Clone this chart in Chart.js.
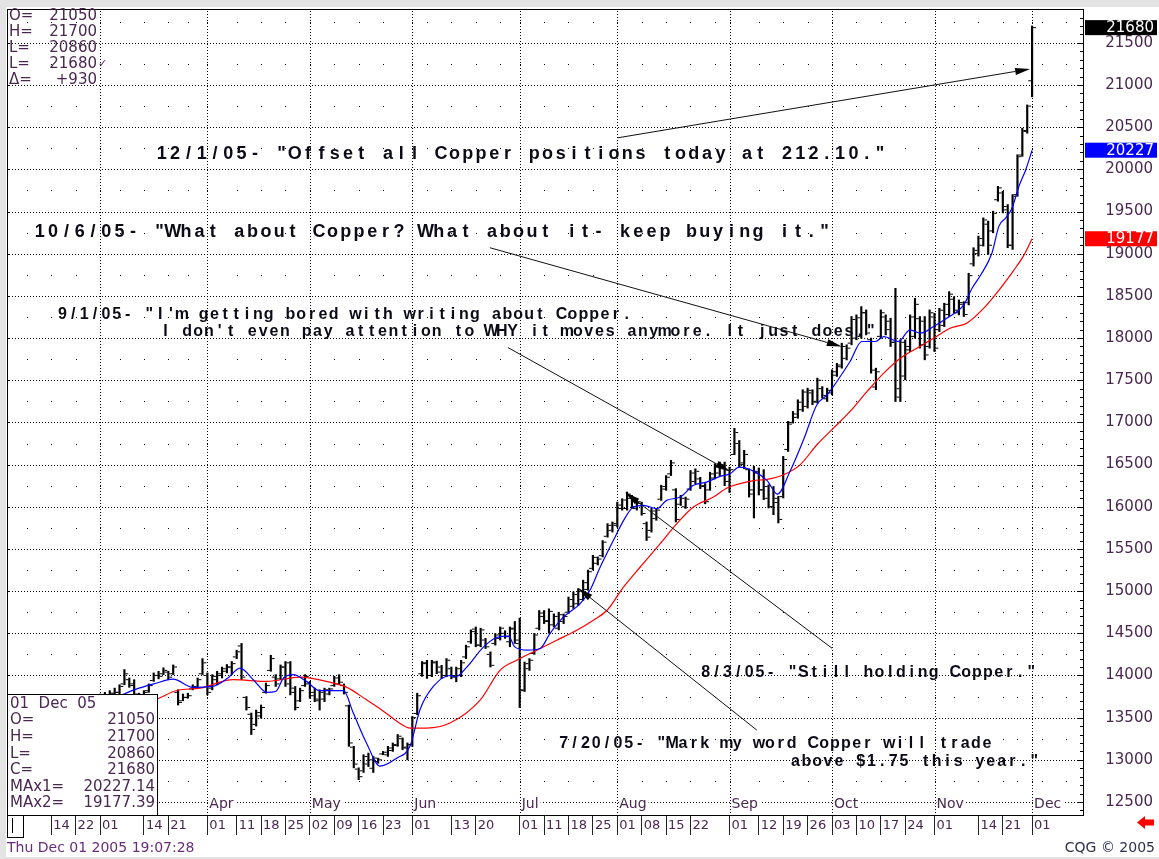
<!DOCTYPE html>
<html>
<head>
<meta charset="utf-8">
<title>Copper daily</title>
<script src="https://cdn.jsdelivr.net/npm/chart.js@4.4.0/dist/chart.umd.min.js"></script>
<style>
  html, body { margin: 0; padding: 0; background: #e3e3e3; overflow: hidden; }
  canvas { display: block; }
</style>
</head>
<body>
<canvas id="chart" width="1159" height="859"></canvas>
<script>
// ===== daily bars, index 0 = Mar 1 2005, 191 = Dec 1 2005 =====
const opens = [
  13700,13720,13750,13780,13800,13900,13950,13900,13770,13730,13820,13940,14000,14020,14040,14020,
  13800,13700,13740,13840,13860,14020,14000,13850,13950,14000,14050,14100,14220,14350,13740,13540,
  13420,13520,13800,14060,13980,13960,14100,14150,13850,13700,13880,13900,13800,13700,13720,13780,
  13880,13900,13880,13640,13150,12890,12870,12950,12900,12980,13070,13060,13110,13170,13250,13150,
  13180,13550,14020,14150,14000,14150,14100,14000,14080,14000,14000,14220,14400,14550,14360,14420,
  14250,14380,14440,14500,14400,14560,14380,13830,14080,14260,14560,14700,14650,14600,14560,14640,
  14750,14820,14850,14900,15020,15270,15330,15420,15650,15720,15780,15980,15980,16100,15980,16040,
  15800,15720,15860,16090,16210,16390,16200,16030,16000,16210,16300,16330,16250,16200,16340,16400,
  16480,16300,16620,16750,16520,16440,16200,16420,16200,16240,16000,16100,16120,16680,17000,17060,
  17150,17190,17350,17250,17400,17280,17350,17560,17660,17760,17940,18000,18020,18300,17980,17420,
  18020,18250,18200,17950,17300,17550,17860,18020,18230,18200,17900,18250,18100,18150,18280,18460,
  18300,18400,18420,18880,19000,19100,19350,19270,19640,19720,19560,19100,19700,20170,20450,21050
];
const highs = [
  13780,13800,13820,13850,13890,14070,13970,13950,13790,13820,13900,14030,14050,14090,14050,14125,
  13830,13780,13790,13890,13970,14200,14030,14010,14050,14100,14130,14165,14300,14380,13750,13555,
  13590,13650,13910,14240,14010,14125,14165,14165,13870,13850,14010,13930,13850,13830,13850,13850,
  13990,14010,13900,13650,13160,12905,13060,13080,13040,13020,13100,13160,13200,13300,13260,13200,
  13515,13790,14165,14180,14180,14170,14120,14200,14100,14100,14180,14360,14540,14575,14560,14440,
  14280,14497,14575,14530,14575,14640,14680,14160,14200,14500,14770,14770,14790,14730,14750,14730,
  14930,14990,15030,15130,15250,15425,15405,15600,15800,15820,16055,16095,16175,16135,16095,16055,
  15820,15980,15980,16255,16370,16550,16215,16135,16115,16430,16450,16350,16275,16410,16510,16530,
  16530,16470,16930,16786,16670,16450,16479,16460,16440,16260,16240,16123,16597,17012,17130,17268,
  17387,17406,17387,17525,17425,17406,17623,17700,17939,17920,18255,18275,18373,18334,18000,17643,
  18334,18275,18235,18590,17979,17979,18275,18472,18255,18255,18334,18294,18353,18413,18550,18490,
  18452,18432,18768,19071,19209,19425,19386,19504,19799,19740,19583,19701,20173,20488,20764,21700
];
const lows = [
  13650,13680,13700,13750,13770,13890,13860,13750,13710,13700,13800,13930,13960,14010,13950,14010,
  13650,13700,13730,13830,13850,14010,13770,13830,13890,13970,14030,14010,14200,13950,13590,13300,
  13400,13495,13790,14050,13870,13950,13870,13770,13590,13690,13870,13730,13690,13590,13690,13770,
  13870,13890,13780,13160,12905,12765,12850,12920,12850,12960,13060,13040,13100,13160,13120,13000,
  13160,13535,13990,13965,13985,14020,13965,13985,13960,13925,13985,14200,14380,14340,14340,14320,
  14100,14360,14420,14440,14340,14380,13620,13810,14060,14250,14540,14615,14500,14575,14540,14615,
  14735,14795,14830,14890,15010,15250,15310,15405,15640,15700,15760,15960,15960,15980,15960,15900,
  15600,15700,15840,16075,16195,16370,15820,16015,15980,16195,16275,16215,16035,16195,16330,16370,
  16250,16170,16617,16470,16450,16115,15867,16140,16084,15985,15906,15808,16104,16656,16992,17050,
  17130,17170,17210,17230,17290,17248,17327,17545,17643,17741,17920,17979,17998,18038,17584,17387,
  17998,18038,17900,17248,17248,17505,17840,17998,17880,17742,17880,17840,18077,18136,18255,18294,
  18275,18255,18393,18854,18972,19090,18992,19248,19622,19484,19071,19051,19681,20154,20429,20860
];
const closes = [
  13720,13760,13790,13800,13870,14020,13880,13780,13740,13800,13880,14000,13990,14060,13980,14100,
  13680,13740,13760,13870,13950,14150,13800,13990,14020,14080,14100,14140,14280,13980,13620,13360,
  13560,13620,13880,14200,13900,14100,13900,13800,13620,13820,13990,13760,13720,13800,13830,13840,
  13970,13920,13800,13200,12950,12800,13040,13000,13020,13000,13090,13140,13180,13280,13140,13180,
  13500,13760,14140,14000,14160,14040,14000,14180,13980,14080,14150,14340,14520,14360,14540,14340,
  14120,14480,14560,14460,14550,14420,13820,14140,14180,14480,14740,14640,14760,14700,14720,14700,
  14900,14960,15000,15100,15230,15400,15380,15580,15780,15800,16020,16080,16150,16000,16060,15920,
  15640,15950,15960,16240,16350,16520,15850,16100,16090,16400,16420,16240,16060,16390,16490,16500,
  16300,16440,16880,16500,16620,16150,16400,16200,16100,16000,16050,15850,16560,16980,17100,17240,
  17360,17380,17240,17500,17320,17380,17600,17680,17900,17880,18220,18240,18300,18060,17620,17600,
  18300,18100,17950,17400,17950,17900,18250,18400,17920,17800,18300,17880,18330,18400,18520,18330,
  18420,18280,18740,19040,19180,19400,19100,19480,19780,19520,19100,19680,20150,20460,20750,21680
];

// moving averages: [bar index, value]
const ma1Pts = [[0,13700],[4,13760],[7,13830],[11,13900],[15,13956],[19,13860],[23,13870],[26,13960],
  [28.7,14086],[31.4,13950],[34.2,13800],[36,13810],[37.6,13970],[39.6,14010],[42.3,13930],[45,13820],
  [49.9,13820],[51.9,13555],[54.6,13200],[57.4,12925],[60.8,13020],[63.5,13160],[65.6,13600],[68.3,13870],
  [71.7,14000],[72.8,13984],[75.2,14102],[78.6,14339],[81.3,14450],[83.7,14466],[85,14339],[87.5,14300],
  [90.2,14320],[92.2,14497],[95,14694],[98.4,14852],[100.4,15010],[102.5,15286],[105.2,15602],[107.3,15839],
  [109.3,15997],[111.4,16017],[114.1,15977],[116.1,16076],[118.9,16115],[121.6,16254],[124.3,16293],[127.1,16360],
  [129.1,16392],[131,16470],[134,16420],[136.7,16310],[138.8,16150],[141.4,16420],[144.2,16800],[146.9,17209],
  [149,17327],[151,17485],[153.7,17722],[156.1,17959],[158.9,17959],[160.6,18018],[163.6,17959],[166,18097],
  [168.1,18058],[170.8,18136],[173.5,18235],[177,18393],[178.7,18590],[180.5,18750],[182.8,19012],[184.2,19327],
  [185.6,19425],[186.9,19543],[188.3,19799],[189.7,19996],[191,20227.14]];
const ma2Pts = [[0,13600],[6,13650],[11.6,13720],[15.7,13822],[20.5,13850],[27.3,13950],[34.2,13930],[41,13980],
  [47.8,13910],[50.5,13862],[54.6,13712],[58,13580],[61.5,13432],[63.5,13377],[66.9,13377],[71.7,13436],
  [77.9,13708],[82,14063],[85.4,14181],[89.5,14300],[93.6,14418],[97.7,14537],[101.1,14655],[103.9,14773],
  [107.3,15050],[110.7,15286],[114.8,15563],[118.2,15800],[121.6,15997],[125.7,16115],[128.5,16222],[133.9,16310],
  [136.7,16325],[140.1,16380],[143.5,16500],[146.9,16735],[150.3,16933],[153.7,17130],[157.2,17367],[160.6,17584],
  [164,17761],[167.4,17880],[170.8,17998],[174.2,18117],[177.6,18176],[181.1,18354],[184.5,18590],[187.2,18800],
  [189.3,18980],[191,19177.39]];
const maLast = [20227.14, 19177.39];

// axis ticks
const weekTicks  = [-15,-10,-5,0,4,9,14,18,22,28,33,38,43,48,53,58,64,67,72,77,82,86,91,96,101,106,111,116,121,126,
  129,135,140,145,150,155,160,165,171,175,180,185,188,191,193,198];
const weekLabels = ['','14','22','01','','14','21','','01','11','18','25','02','09','16','23','01','','13','20','','01',
  '11','18','25','01','08','15','22','','01','12','19','26','03','10','17','24','01','','14','21','','01','',''];
const monthStarts = [0,22,43,64,86,106,129,150,171,191];
const monthNames  = ['Mar','Apr','May','Jun','Jul','Aug','Sep','Oct','Nov','Dec'];
const priceTicks = [12500,13000,13500,14000,14500,15000,15500,16000,16500,17000,17500,18000,18500,19000,19500,20000,20500,21000,21500];
const dateStamp = 'Thu Dec 01 2005 19:07:28';
const barDate = '01  Dec  05';

// comments on the chart, anchored in (bar index, price)
const notes = [
  { text: '12/1/05- "Offset all Copper positions today at 212.10."', x: 11.3, y: 20184, big: true },
  { text: '10/6/05- "What about Copper? What about it- keep buying it."', x: -13.7, y: 19261, big: true },
  { text: '9/1/05- "I\'m getting bored with writing about Copper.', x: -8.8, y: 18278 },
  { text: 'I don\'t even pay attention to WHY it moves anymore. It just does."', x: 12.3, y: 18077 },
  { text: '8/3/05- "Still holding Copper."', x: 123, y: 14039 },
  { text: '7/20/05- "Mark my word Copper will trade', x: 93.9, y: 13187 },
  { text: 'above $1.75 this year."', x: 141.4, y: 12974 }
];
const arrows = [
  [106.1, 20374, 190.6, 21190],
  [79.9, 19071, 152, 17899],
  [83.6, 17887, 129.1, 16419],
  [150, 14323, 107.6, 16170],
  [134.6, 13352, 98, 15034]
];

const SANS = '"DejaVu Sans", sans-serif';
const BOLD = '"Liberation Sans", Arial, sans-serif';
const TXT = '#4a2750';
const last = closes.length - 1;

function spaced(ctx, s, x, y, pitch) {
    for (let k = 0; k < s.length; k++) ctx.fillText(s[k], x + k * pitch + pitch / 2, y);
}

function arrowTo(ctx, x1, y1, x2, y2) {
    const dx = x2 - x1, dy = y2 - y1, len = Math.hypot(dx, dy);
    const ux = dx / len, uy = dy / len;
    const hl = 15, hw = 3.5;
    ctx.beginPath();
    ctx.moveTo(x1, y1);
    ctx.lineTo(x2 - ux * hl, y2 - uy * hl);
    ctx.stroke();
    ctx.beginPath();
    ctx.moveTo(x2, y2);
    ctx.lineTo(x2 - ux * hl - uy * hw, y2 - uy * hl + ux * hw);
    ctx.lineTo(x2 - ux * hl + uy * hw, y2 - uy * hl - ux * hw);
    ctx.closePath();
    ctx.fill();
}

// ============================================
// Decorations drawn through the chart scales
// ============================================
const decor = {
    id: 'decor',
    beforeDraw(chart) {
        const { ctx, width, height } = chart;
        ctx.save();
        ctx.fillStyle = '#e3e3e3';
        ctx.fillRect(0, 0, width, height);
        ctx.fillStyle = '#fff';
        ctx.fillRect(6, 7, width - 6, height - 9);
        ctx.restore();
    },
    beforeDatasetsDraw(chart) {
        const { ctx, chartArea: a, scales: { x, y } } = chart;
        ctx.save();
        ctx.fillStyle = '#000';
        // dotted price lines
        priceTicks.forEach(p => {
            const py = Math.round(y.getPixelForValue(p));
            for (let px = Math.ceil(a.left) + 2; px < a.right; px += 3) ctx.fillRect(px, py, 1, 1);
        });
        // dotted month lines
        monthStarts.forEach(v => {
            const px = Math.round(x.getPixelForValue(v));
            for (let py = Math.ceil(a.top) + 2; py < a.bottom; py += 3) ctx.fillRect(px, py, 1, 1);
        });
        // sparse dots on the quarter levels
        for (let p = 12750; p < 22000; p += 500) {
            const py = Math.round(y.getPixelForValue(p));
            if (py < a.top || py > a.bottom) continue;
            weekTicks.forEach(v => {
                const px = Math.round(x.getPixelForValue(v));
                if (px > a.left && px < a.right) ctx.fillRect(px, py, 1, 1);
            });
        }
        // inward ticks on both price edges
        ctx.strokeStyle = '#000';
        ctx.lineWidth = 1;
        ctx.beginPath();
        for (let p = 12400; p <= 21900; p += 100) {
            const py = Math.round(y.getPixelForValue(p)) + 0.5;
            const len = p % 500 === 0 ? 6 : 3;
            ctx.moveTo(a.right - len, py); ctx.lineTo(a.right, py);
            if (p % 250 === 0) { ctx.moveTo(a.left, py); ctx.lineTo(a.left + 3, py); }
        }
        ctx.moveTo(a.left + 0.5, a.top); ctx.lineTo(a.left + 0.5, a.bottom);
        ctx.moveTo(a.left, a.top + 0.5); ctx.lineTo(a.right, a.top + 0.5);
        ctx.stroke();
        // month names inside the plot
        ctx.font = '14px ' + SANS;
        ctx.textBaseline = 'middle';
        ctx.textAlign = 'left';
        monthStarts.forEach((v, k) => {
            const px = x.getPixelForValue(v) + 2;
            const w = ctx.measureText(monthNames[k]).width;
            ctx.fillStyle = '#fff';
            ctx.fillRect(px, a.bottom - 19, w + 2, 16);
            ctx.fillStyle = TXT;
            ctx.fillText(monthNames[k], px, a.bottom - 11);
        });
        ctx.restore();
    },
    afterDatasetsDraw(chart) {
        const { ctx, chartArea: a, scales: { x, y }, width, height } = chart;
        ctx.save();

        // remarks and arrows
        ctx.fillStyle = '#0b0b18';
        ctx.strokeStyle = '#111';
        ctx.lineWidth = 1;
        ctx.textAlign = 'center';
        ctx.textBaseline = 'middle';
        notes.forEach(n => {
            ctx.font = (n.big ? 'bold 18px ' : 'bold 16px ') + BOLD;
            spaced(ctx, n.text, x.getPixelForValue(n.x), y.getPixelForValue(n.y), n.big ? 13.3 : 10.85);
        });
        ctx.fillStyle = '#000';
        arrows.forEach(r => arrowTo(ctx, x.getPixelForValue(r[0]), y.getPixelForValue(r[1]),
            x.getPixelForValue(r[2]), y.getPixelForValue(r[3])));

        // quote box, top left
        ctx.font = '15px ' + SANS;
        ctx.textBaseline = 'middle';
        const quote = [['O=', opens[last]], ['H=', highs[last]], ['L=', lows[last]],
            ['L=', closes[last]], ['\u0394=', '+' + (closes[last] - closes[last - 1])]];
        quote.forEach((q, k) => {
            const ty = 16 + k * 16;
            ctx.fillStyle = TXT;
            ctx.textAlign = 'left';
            ctx.fillText(q[0], 9, ty);
            ctx.textAlign = 'right';
            ctx.fillText(String(q[1]), 97, ty);
        });
        ctx.textAlign = 'left';
        ctx.font = '11px ' + SANS;
        ctx.fillText('\u2713', 98, 16 + 3 * 16);

        // bar info box, bottom left
        const bx = a.left, by = 694, bw = 150, bh = a.bottom - by;
        ctx.fillStyle = '#fff';
        ctx.fillRect(bx, by, bw, bh);
        ctx.strokeStyle = '#000';
        ctx.strokeRect(bx + 0.5, by + 0.5, bw, bh);
        ctx.font = '15px ' + SANS;
        const info = [[barDate, ''], ['O=', opens[last]], ['H=', highs[last]], ['L=', lows[last]],
            ['C=', closes[last]], ['MAx1=', maLast[0].toFixed(2)], ['MAx2=', maLast[1].toFixed(2)]];
        info.forEach((q, k) => {
            const ty = 704 + k * 16.6;
            ctx.fillStyle = TXT;
            ctx.textAlign = 'left';
            ctx.fillText(q[0], bx + 3, ty);
            ctx.textAlign = 'right';
            ctx.fillText(String(q[1]), bx + bw - 2, ty);
        });

        // value tags on the price axis
        const tags = [[closes[last], '#000'], [maLast[0], '#0000ff'], [maLast[1], '#ff0000']];
        tags.forEach(t => {
            const py = y.getPixelForValue(t[0]);
            ctx.fillStyle = t[1];
            ctx.fillRect(a.right + 2, py - 7.5, width - a.right - 4, 15);
            ctx.fillStyle = '#fff';
            ctx.textAlign = 'right';
            ctx.fillText(String(Math.round(t[0])), width - 5, py + 0.5);
        });

        // scroll box at the start of the date row, red arrow, footer
        ctx.strokeStyle = '#000';
        ctx.strokeRect(a.left + 0.5, a.bottom + 0.5, 16, 22);
        ctx.beginPath();
        ctx.moveTo(a.left + 5.5, a.bottom + 3); ctx.lineTo(a.left + 5.5, a.bottom + 18);
        ctx.stroke();

        ctx.fillStyle = '#ff0000';
        ctx.beginPath();
        ctx.moveTo(1137, 822.5);
        ctx.lineTo(1145, 816); ctx.lineTo(1145, 819.5); ctx.lineTo(1154, 819.5);
        ctx.lineTo(1154, 825.5); ctx.lineTo(1145, 825.5); ctx.lineTo(1145, 829);
        ctx.closePath();
        ctx.fill();

        ctx.font = '14px ' + SANS;
        ctx.textAlign = 'left';
        ctx.fillStyle = '#6a2c7a';
        ctx.fillText(dateStamp, 7, height - 11);
        ctx.textAlign = 'right';
        ctx.fillStyle = '#2e3048';
        ctx.fillText('CQG \u00a9 2005', width - 4, height - 11);
        ctx.restore();
    }
};

// ============================================
// Chart
// ============================================
const idx = closes.map((c, i) => i);
const TICK = 0.5;

new Chart(document.getElementById('chart').getContext('2d'), {
    type: 'bar',
    data: {
        datasets: [
            {
                type: 'bar',
                data: idx.map(i => ({ x: i, y: [lows[i], highs[i]] })),
                backgroundColor: '#000',
                barThickness: 1.5,
                order: 3
            },
            {
                type: 'scatter',
                data: idx.map(i => ({ x: i - TICK, y: opens[i] })),
                pointStyle: 'line', pointRadius: 1.4, borderColor: '#000', borderWidth: 1,
                order: 2
            },
            {
                type: 'scatter',
                data: idx.map(i => ({ x: i + TICK, y: closes[i] })),
                pointStyle: 'line', pointRadius: 1.4, borderColor: '#000', borderWidth: 1,
                order: 2
            },
            {
                type: 'line',
                data: ma1Pts.map(p => ({ x: p[0], y: p[1] })),
                borderColor: '#0000ff', borderWidth: 1.2, pointRadius: 0,
                cubicInterpolationMode: 'monotone',
                order: 1
            },
            {
                type: 'line',
                data: ma2Pts.map(p => ({ x: p[0], y: p[1] })),
                borderColor: '#ff0000', borderWidth: 1.2, pointRadius: 0,
                cubicInterpolationMode: 'monotone',
                order: 1
            }
        ]
    },
    options: {
        responsive: false,
        devicePixelRatio: 1,
        animation: false,
        events: [],
        layout: { padding: { left: 7, top: 8, right: 6, bottom: 22 } },
        plugins: { legend: { display: false }, tooltip: { enabled: false } },
        scales: {
            x: {
                type: 'linear',
                min: -19.06, max: 201.43,
                offset: false,
                beginAtZero: false,
                afterBuildTicks: s => { s.ticks = weekTicks.map(v => ({ value: v })); },
                afterFit: s => { s.height = 22; },
                grid: {
                    offset: false,
                    drawOnChartArea: false,
                    lineWidth: 1,
                    tickLength: 20,
                    tickWidth: 1,
                    tickColor: c => weekLabels[c.index] ? '#222' : 'rgba(0,0,0,0)'
                },
                border: { display: true, color: '#000', width: 1 },
                ticks: {
                    autoSkip: false, maxRotation: 0, minRotation: 0,
                    align: 'start', labelOffset: 2, padding: -17,
                    color: TXT, font: { family: SANS, size: 13 },
                    callback: (v, i) => weekLabels[i]
                }
            },
            y: {
                position: 'right',
                min: 12346, max: 21901,
                beginAtZero: false,
                afterBuildTicks: s => { s.ticks = priceTicks.map(v => ({ value: v })); },
                afterFit: s => { s.width = 70; },
                grid: { drawOnChartArea: false, drawTicks: false, tickLength: 0 },
                border: { display: true, color: '#000', width: 1 },
                ticks: {
                    crossAlign: 'far', padding: 0,
                    color: TXT, font: { family: SANS, size: 15 },
                    callback: v => String(v)
                }
            }
        }
    },
    plugins: [decor]
});
</script>
</body>
</html>
